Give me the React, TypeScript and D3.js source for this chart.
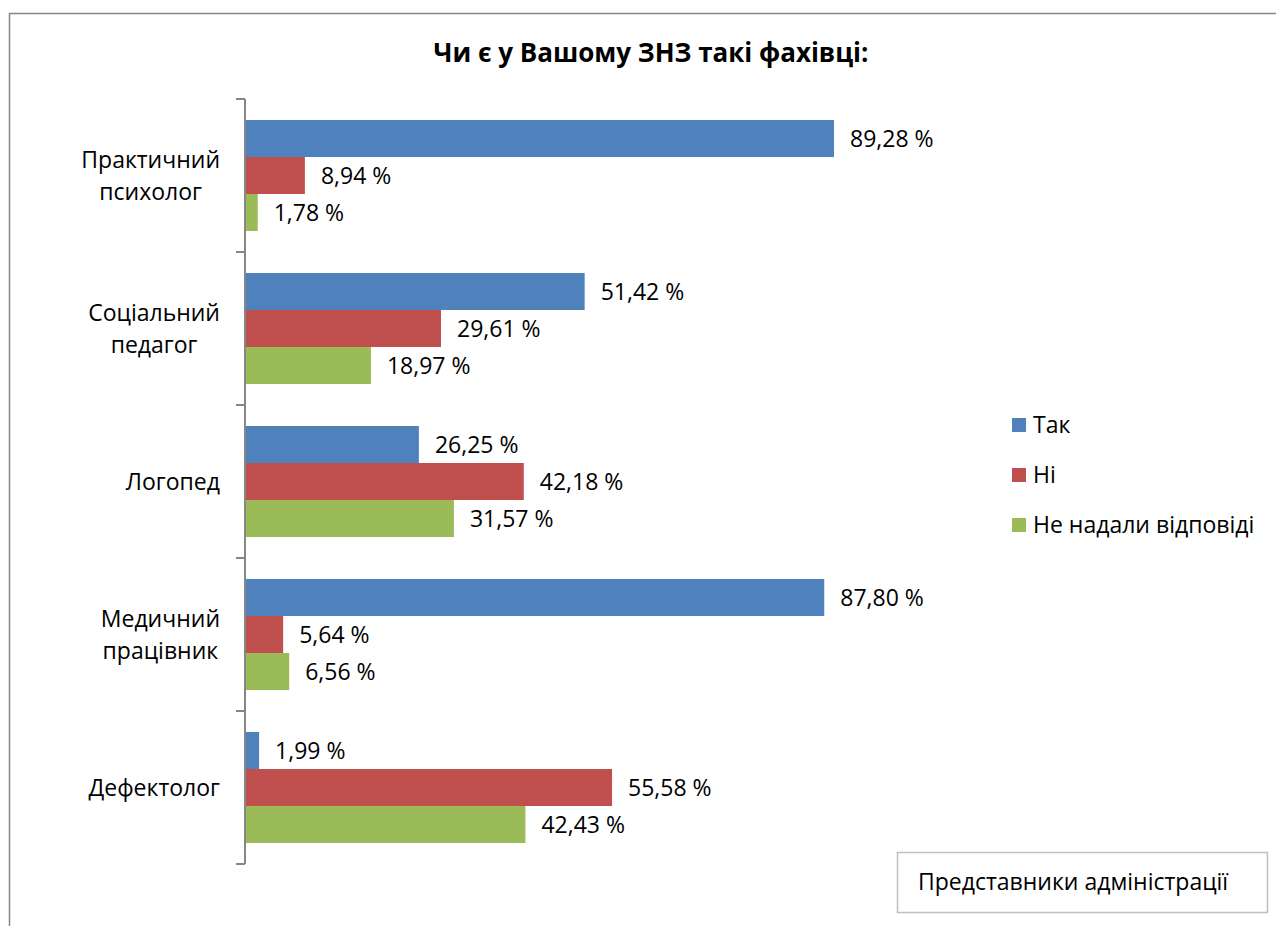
import React from "react";
import * as d3 from "d3";

const categories = ["Практичний психолог", "Соціальний педагог", "Логопед", "Медичний працівник", "Дефектолог"];
const categoryLines = [["Практичний", "психолог"], ["Соціальний", "педагог"], ["Логопед"], ["Медичний", "працівник"], ["Дефектолог"]];
const seriesNames = ["Так", "Ні", "Не надали відповіді"];
const valuesYes = [89.28, 51.42, 26.25, 87.8, 1.99];
const valuesNo = [8.94, 29.61, 42.18, 5.64, 55.58];
const valuesNoAnswer = [1.78, 18.97, 31.57, 6.56, 42.43];
const colors = ["#4F81BD", "#C0504D", "#9BBB59"];
const title = "Чи є у Вашому ЗНЗ такі фахівці:";
const boxText = "Представники адміністрації";

const FONT = "'Open Sans', sans-serif";

let ctx: CanvasRenderingContext2D | null = null;
function measure(text: string, size: number): number {
  if (!ctx) {
    const c = document.createElement("canvas");
    ctx = c.getContext("2d");
  }
  if (!ctx) return text.length * size * 0.55;
  ctx.font = `${size}px 'Open Sans', sans-serif`;
  return ctx.measureText(text).width;
}

export default function App() {
  const series = [valuesYes, valuesNo, valuesNoAnswer];
  const x = d3.scaleLinear().domain([0, 100]).range([246, 246 + 658.6]);
  const y = d3.scaleBand().domain(categories).range([99, 864]).paddingInner(0).paddingOuter(0);
  const inner = d3.scaleBand().domain(seriesNames).range([21, y.bandwidth() - 21]);
  const fmt = (v: number) => v.toFixed(2).replace(".", ",") + " %";
  const ticks = [...categories.map((c) => y(c) as number), 864];
  const labelRight = 220;

  return (
    <svg width={1276} height={926} style={{ position: "absolute", left: 0, top: 0, background: "#fff" }}>
      <rect x={9.5} y={13.5} width={1400} height={1000} fill="#fff" stroke="#868686" strokeWidth={1.5} />
      <text x={651} y={62} textAnchor="middle" fontFamily={FONT} fontWeight={700} fontSize={26} fill="#000">
        {title}
      </text>
      {categories.map((c, ci) =>
        series.map((vals, si) => {
          const v = vals[ci];
          const by = (y(c) as number) + (inner(seriesNames[si]) as number);
          const bh = inner.bandwidth();
          return (
            <g key={c + si}>
              <rect x={x(0)} y={by} width={x(v) - x(0)} height={bh} fill={colors[si]} />
              <text x={x(v) + 16} y={by + bh / 2 + 8} fontFamily={FONT} fontSize={23} fill="#000">
                {fmt(v)}
              </text>
            </g>
          );
        })
      )}
      <line x1={245} x2={245} y1={99} y2={864} stroke="#868686" strokeWidth={2} />
      {ticks.map((t, i) => (
        <line key={i} x1={236} x2={245} y1={t} y2={t} stroke="#868686" strokeWidth={2} />
      ))}
      {categories.map((c, ci) => {
        const lines = categoryLines[ci];
        const cy = (y(c) as number) + y.bandwidth() / 2;
        const maxW = Math.max(...lines.map((l) => measure(l, 23)));
        const cx = labelRight - maxW / 2;
        return (
          <text key={c} textAnchor="middle" fontFamily={FONT} fontSize={23} fill="#000">
            {lines.map((l, li) => (
              <tspan key={li} x={cx} y={cy + 8 + (li - (lines.length - 1) / 2) * 32}>
                {l}
              </tspan>
            ))}
          </text>
        );
      })}
      {seriesNames.map((s, si) => (
        <g key={s}>
          <rect x={1012} y={418 + si * 50} width={14} height={14} fill={colors[si]} />
          <text x={1033} y={433 + si * 50} fontFamily={FONT} fontSize={23} fill="#000">
            {s}
          </text>
        </g>
      ))}
      <rect x={897.5} y={852.5} width={370} height={60} fill="#fff" stroke="#BFBFBF" strokeWidth={1.5} />
      <text x={918} y={890} fontFamily={FONT} fontSize={23} fill="#000">
        {boxText}
      </text>
    </svg>
  );
}
